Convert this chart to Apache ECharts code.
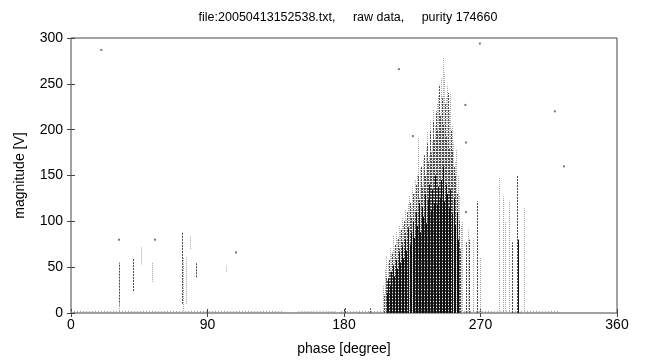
<!DOCTYPE html>
<html><head><meta charset="utf-8">
<script src="https://cdn.jsdelivr.net/npm/echarts@6/dist/echarts.min.js"></script>
<style>html,body{margin:0;padding:0;background:#fff}#c{width:649px;height:361px}</style>
</head><body><div id="c"></div>
<script>
// ---- data ----
const xTicks = [0, 90, 180, 270, 360];
const yTicks = [0, 50, 100, 150, 200, 250, 300];

// dense cluster, light grey stems
const lightPhase = [206,207,208,209,210,211,212,213,214,215,216,217,218,219,220,221,222,223,224,225,226,227,228,229,230,231,232,233,234,235,236,237,238,239,240,241,242,243,244,245,246,247,248,249,250,251,252,253,254,255,256,257];
const lightTop   = [30,48,62,55,72,64,84,70,88,80,96,90,104,95,112,102,120,128,115,138,130,145,150,192,158,146,168,156,180,198,172,210,188,222,204,228,238,214,256,279,262,236,249,222,240,205,186,165,178,150,128,96];
// dense cluster, mid grey stems
const midPhase = [206.5,207.5,208.5,209.5,210.5,211.5,212.5,213.5,214.5,215.5,216.5,217.5,218.5,219.5,220.5,221.5,222.5,223.5,224.5,225.5,226.5,227.5,228.5,229.5,230.5,231.5,232.5,233.5,234.5,235.5,236.5,237.5,238.5,239.5,240.5,241.5,242.5,243.5,244.5,245.5,246.5,247.5,248.5,249.5,250.5,251.5,252.5,253.5,254.5,255.5,256.5];
const midTop   = [20,40,35,58,45,66,52,75,60,82,70,92,78,100,88,110,95,120,104,130,112,140,150,125,160,138,172,150,185,165,198,175,210,190,220,200,249,215,236,205,228,192,240,180,200,178,160,150,130,100,70];
// dense cluster, black stems
const darkPhase = [208.2,209.2,210.2,211.2,212.2,213.2,214.2,215.2,216.2,217.2,218.2,219.2,220.2,221.2,222.2,223.2,224.2,225.2,226.2,227.2,228.2,229.2,230.2,231.2,232.2,233.2,234.2,235.2,236.2,237.2,238.2,239.2,240.2,241.2,242.2,243.2,244.2,245.2,246.2,247.2,248.2,249.2,250.2,251.2,252.2,253.2,254.2,255.2];
const darkTop   = [22,38,30,45,52,40,58,48,66,55,72,60,80,68,92,75,88,100,82,110,95,120,88,115,105,130,98,124,140,112,135,120,150,118,138,125,145,160,122,140,130,115,135,108,125,96,110,80];

// sparse stems outside the cluster (shade: 0 light, 1 mid, 2 black)
const sparsePhase = [31.6,31.6,40.9,46,53.4,73,74,76,78.5,82.4,102,257.7,260.4,261.5,262.5,265,267.6,269.6,282.3,284.9,286,288.8,290.8,294.1,295,298.7,180.5,197];
const sparseLow   = [8,0,24,53,34,10,0,10,70,39,45,0,0,0,0,0,0,0,0,0,0,0,0,0,0,0,0,0];
const sparseTop   = [55,10,59,72,56,88,60,61,84,55,52,99,77,92,80,81,122,61,148,127,100,122,77,150,80,115,6,5];
const sparseShade = [1,0,1,0,0,1,0,0,0,1,0,0,1,0,1,0,1,0,0,0,0,0,1,1,2,0,1,1];

// isolated points
const dotPhase = [20,31.6,55.4,108.8,216.2,225.4,269.6,260,260.4,260.4,319,325];
const dotMag   = [287,80,80,66,266,193,294,227,186,110,220,160];

// near-zero baseline noise segments
const baseStart = [0,150,178];
const baseEnd   = [140,175,322];

// ---- build ----
const shadeColor = ['#a8a8a8', '#4a4a4a', '#101010'];
const shadeDash = [[1,1],[2,1],null];
const stems = [];
lightPhase.forEach((p,i)=>stems.push([p,0,lightTop[i],0]));
midPhase.forEach((p,i)=>stems.push([p,0,midTop[i],1]));
darkPhase.forEach((p,i)=>stems.push([p,0,darkTop[i],2]));
sparsePhase.forEach((p,i)=>stems.push([p,sparseLow[i],sparseTop[i],sparseShade[i]]));

const chart = echarts.init(document.getElementById('c'), null, {renderer:'canvas'});
const font = 'Liberation Sans, Arial, sans-serif';
chart.setOption({
  animation:false,
  backgroundColor:'#fff',
  title:{text:'file:20050413152538.txt,     raw data,     purity 174660', left:343, textAlign:'center', top:6,
    textStyle:{fontFamily:font,fontSize:12.5,fontWeight:'normal',color:'#000'}},
  grid:{left:71,right:32,top:38,bottom:47,show:true,borderColor:'#444',borderWidth:1,backgroundColor:'#fff'},
  xAxis:[{type:'value',min:0,max:360,interval:90,
    name:'phase [degree]',nameLocation:'middle',nameGap:29,
    nameTextStyle:{fontFamily:font,fontSize:14,color:'#000'},
    axisLine:{show:false},axisTick:{show:true,inside:true,length:4,lineStyle:{color:'#444'}},
    axisLabel:{fontFamily:font,fontSize:14,color:'#000',margin:5},splitLine:{show:false}},
    {type:'value',position:'top',min:0,max:360,interval:90,axisLine:{show:false},
    axisTick:{show:true,inside:true,length:4,lineStyle:{color:'#444'}},axisLabel:{show:false},splitLine:{show:false}}],
  yAxis:[{type:'value',min:0,max:300,interval:50,
    name:'magnitude [V]',nameLocation:'middle',nameGap:44,nameRotate:90,
    nameTextStyle:{fontFamily:font,fontSize:14,color:'#000'},
    axisLine:{show:false},axisTick:{show:true,inside:true,length:4,lineStyle:{color:'#444'}},
    axisLabel:{fontFamily:font,fontSize:14,color:'#000',margin:8},splitLine:{show:false}},
    {type:'value',position:'right',min:0,max:300,interval:50,axisLine:{show:false},
    axisTick:{show:true,inside:true,length:4,lineStyle:{color:'#444'}},axisLabel:{show:false},splitLine:{show:false}}],
  series:[
    {type:'custom',coordinateSystem:'cartesian2d',data:baseStart.map((s,i)=>[s,baseEnd[i]]),
      renderItem:function(params,api){
        const a=api.coord([api.value(0),1]); const b=api.coord([api.value(1),1]);
        return {type:'line',shape:{x1:a[0],y1:a[1],x2:b[0],y2:b[1]},
          style:{stroke:'#888',lineWidth:1.5,lineDash:[1,2]}};
      }},
    {type:'custom',coordinateSystem:'cartesian2d',data:stems,
      renderItem:function(params,api){
        const s=api.value(3);
        const a=api.coord([api.value(0),api.value(1)]); const b=api.coord([api.value(0),api.value(2)]);
        const x=Math.round(a[0])+0.5;
        return {type:'line',shape:{x1:x,y1:a[1],x2:x,y2:b[1]},
          style:{stroke:shadeColor[s],lineWidth:1,lineDash:shadeDash[s]}};
      }},
    {type:'scatter',data:dotPhase.map((p,i)=>[p,dotMag[i]]),symbol:'rect',symbolSize:2,
      itemStyle:{color:'#555'}}
  ]
});
</script></body></html>
